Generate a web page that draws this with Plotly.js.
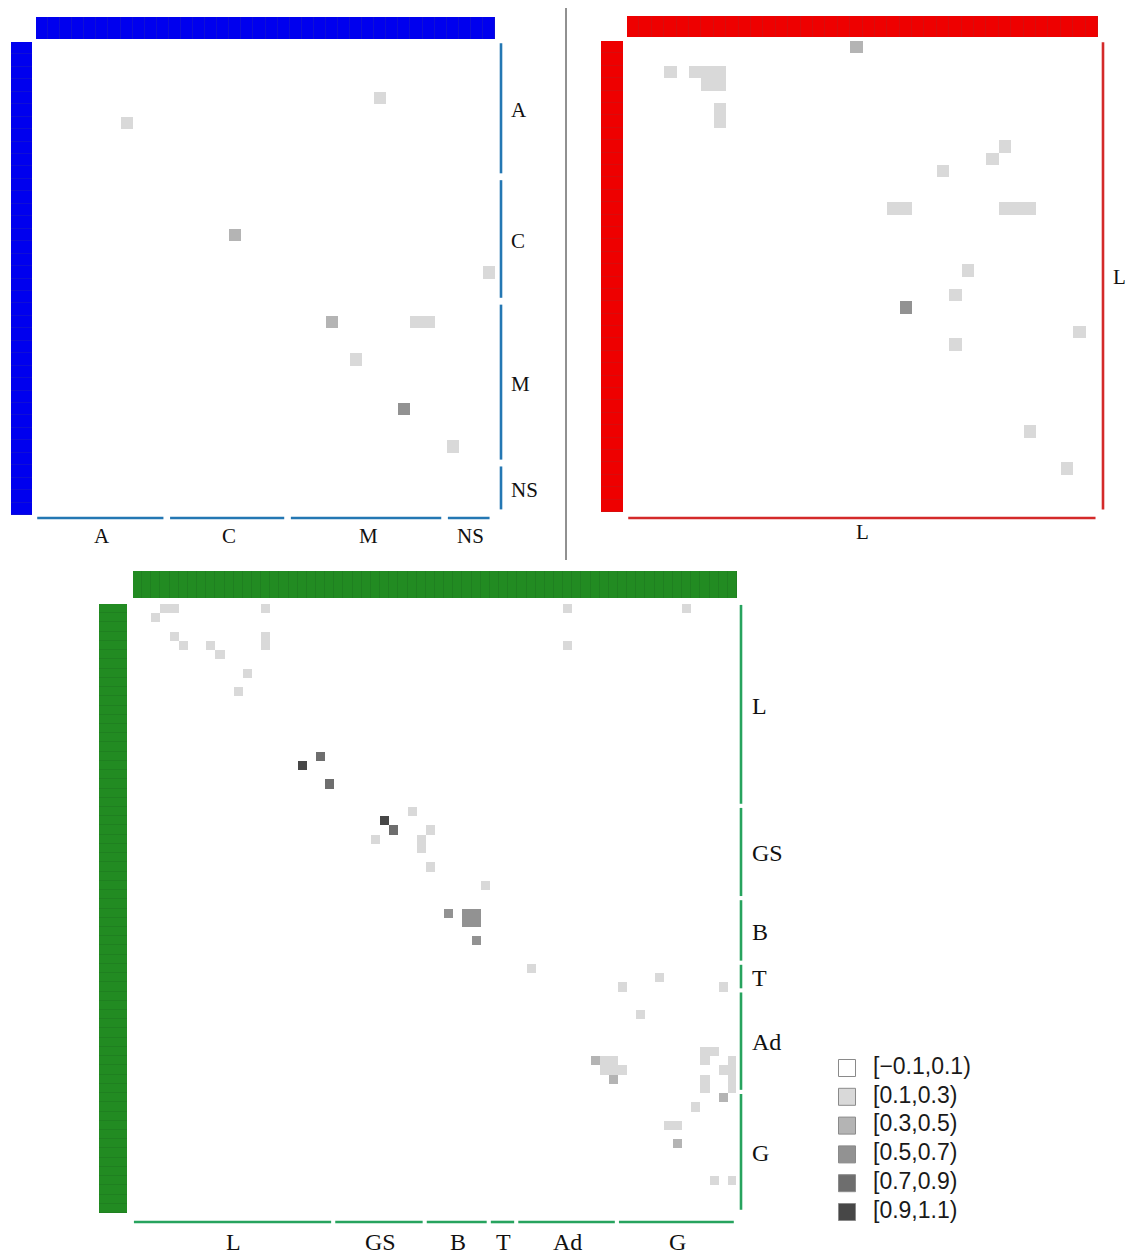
<!DOCTYPE html>
<html><head><meta charset="utf-8">
<script src="https://cdn.plot.ly/plotly-3.0.1.min.js"></script>
<style>html,body{margin:0;padding:0;background:#fff;}#chart{width:1125px;height:1255px;}</style>
</head><body><div id="chart"></div>
<script>
// ---------- DATA ----------
const legendLabels = ['[\u22120.1,0.1)','[0.1,0.3)','[0.3,0.5)','[0.5,0.7)','[0.7,0.9)','[0.9,1.1)'];
const binGrays = ['#ffffff','#d9d9d9','#b4b4b4','#929292','#6e6e6e','#474747'];

// Panel 1 (blue): groups A, C, M, NS
const p1Groups = ['A','C','M','NS'];
const p1Sizes = [11,10,13,4];
const p1Rows = [4, 6, 15, 18, 22, 22, 22, 25, 29, 32];
const p1Cols = [28, 7, 16, 37, 24, 31, 32, 26, 30, 34];
const p1Vals = [0.2, 0.2, 0.4, 0.2, 0.4, 0.2, 0.2, 0.2, 0.6, 0.2];

// Panel 2 (red): group L
const p2Groups = ['L'];
const p2Sizes = [38];
const p2Rows = [0, 2, 2, 2, 2, 3, 3, 5, 6, 8, 9, 10, 13, 13, 13, 13, 13, 18, 20, 21, 23, 24, 31, 34];
const p2Cols = [18, 3, 5, 6, 7, 6, 7, 7, 7, 30, 29, 25, 21, 22, 30, 31, 32, 27, 26, 22, 36, 26, 32, 35];
const p2Vals = [0.4, 0.2, 0.2, 0.2, 0.2, 0.2, 0.2, 0.2, 0.2, 0.2, 0.2, 0.2, 0.2, 0.2, 0.2, 0.2, 0.2, 0.2, 0.2, 0.6, 0.2, 0.2, 0.2, 0.2];

// Panel 3 (green): groups L, GS, B, T, Ad, G
const p3Groups = ['L','GS','B','T','Ad','G'];
const p3Sizes = [22,10,7,3,11,13];
const p3Rows = [0,0,1,0,3,4,4,5,3,4,7,9,0,4,0,
                17,16,19,
                22,23,24,25,24,25,26,28,30,
                33,33,33,34,34,36,
                39,41,40,41,44,
                49,49,49,50,50,50,51,
                48,48,49,49,50,51,52,50,51,52,53,54,56,56,58,62,62];
const p3Cols = [3,4,2,14,4,5,8,9,14,14,12,11,47,47,60,
                18,20,21,
                30,27,28,26,32,31,31,32,38,
                34,36,37,36,37,37,
                43,53,57,64,55,
                50,51,52,51,52,53,52,
                62,63,62,65,65,65,65,64,62,62,64,61,58,59,59,63,65];
const p3Vals = [0.2,0.2,0.2,0.2,0.2,0.2,0.2,0.2,0.2,0.2,0.2,0.2,0.2,0.2,0.2,
                1.0,0.8,0.8,
                0.2,1.0,0.8,0.2,0.2,0.2,0.2,0.2,0.2,
                0.6,0.6,0.6,0.6,0.6,0.6,
                0.2,0.2,0.2,0.2,0.2,
                0.4,0.2,0.2,0.2,0.2,0.2,0.4,
                0.2,0.2,0.2,0.2,0.2,0.2,0.2,0.2,0.2,0.2,0.4,0.2,0.2,0.2,0.4,0.2,0.2];

// ---------- LAYOUT HELPERS ----------
const W = 1125, H = 1255;
const xd = (a,b) => [a/W, b/W];
const yd = (a,b) => [1 - b/H, 1 - a/H];
const serif = 'Liberation Serif, DejaVu Serif, serif';

const cs = [];
binGrays.forEach((g,i) => { cs.push([i/6, g]); cs.push([(i+1)/6, g]); });

function buildZ(n, rows, cols, vals) {
  const z = Array.from({length:n}, () => Array(n).fill(0));
  rows.forEach((r,i) => { z[r][cols[i]] = vals[i]; });
  return z;
}
function groupIndex(sizes) {
  const out = [];
  sizes.forEach((s,g) => { for (let k=0;k<s;k++) out.push(g); });
  return out;
}
function segs(sizes, padS, padE) {
  const a = [], b = []; let s = 0;
  sizes.forEach(n => { a.push(s - 0.5 + padS, s + n - 0.5 - padE, null); b.push(0,0,null); s += n; });
  return {pos:a, zero:b};
}
function centers(sizes) {
  const c = []; let s = 0;
  sizes.forEach(n => { c.push(s + n/2 - 0.5); s += n; });
  return c;
}

const traces = [];
const layout = {
  width: W, height: H, margin:{l:0,r:0,t:0,b:0},
  paper_bgcolor:'#ffffff', plot_bgcolor:'#ffffff',
  showlegend:false, shapes:[], annotations:[]
};
function hideAx(domain, range) {
  return {domain, range, visible:false, fixedrange:true, showgrid:false, zeroline:false};
}

function panel(cfg) {
  const n = cfg.sizes.reduce((a,b)=>a+b,0);
  const idx = Array.from({length:n}, (_,i)=>i);
  const gi = groupIndex(cfg.sizes);
  const [X, Y, Yb, Yt, Xr, Xl] = cfg.ax;
  const xn = i => i===1 ? 'x' : 'x'+i;
  const yn = i => i===1 ? 'y' : 'y'+i;
  const xk = i => i===1 ? 'xaxis' : 'xaxis'+i;
  const yk = i => i===1 ? 'yaxis' : 'yaxis'+i;
  const p = cfg.px;
  layout[xk(X)] = hideAx(xd(p.hx0, p.hx1), [-0.5, n-0.5]);
  layout[yk(Y)] = hideAx(yd(p.hy0, p.hy1), [n-0.5, -0.5]);
  layout[yk(Yb)] = hideAx(yd(p.by-5, p.by+5), [-1, 1]);
  layout[yk(Yt)] = hideAx(yd(p.ty0, p.ty1), [-0.5, 0.5]);
  layout[xk(Xr)] = hideAx(xd(p.rx-5, p.rx+5), [-1, 1]);
  layout[xk(Xl)] = hideAx(xd(p.lx0, p.lx1), [-0.5, 0.5]);
  layout[yk(Yb)].anchor = xn(X); layout[yk(Yt)].anchor = xn(X);
  layout[xk(Xr)].anchor = yn(Y); layout[xk(Xl)].anchor = yn(Y);

  traces.push({type:'heatmap', z: buildZ(n, cfg.rows, cfg.cols, cfg.vals), x: idx, y: idx,
    xaxis:xn(X), yaxis:yn(Y), colorscale:cs, zmin:-0.1, zmax:1.1, showscale:false, hoverinfo:'skip'});
  traces.push({type:'heatmap', z:[gi], x: idx, y:[0], xaxis:xn(X), yaxis:yn(Yt),
    colorscale:[[0,cfg.bar],[1,cfg.bar]], showscale:false, xgap:1, hoverinfo:'skip'});
  traces.push({type:'heatmap', z: gi.map(g=>[g]), x:[0], y: idx, xaxis:xn(Xl), yaxis:yn(Y),
    colorscale:[[0,cfg.bar],[1,cfg.bar]], showscale:false, ygap:1, hoverinfo:'skip'});
  layout.shapes.push({type:'rect', xref:xn(X)+' domain', yref:yn(Yt)+' domain', x0:0,x1:1,y0:0,y1:1,
    fillcolor:cfg.stripe, line:{width:0}, layer:'below'});
  layout.shapes.push({type:'rect', xref:xn(Xl)+' domain', yref:yn(Y)+' domain', x0:0,x1:1,y0:0,y1:1,
    fillcolor:cfg.stripe, line:{width:0}, layer:'below'});
  const sg = segs(cfg.sizes, cfg.padS, cfg.padE);
  traces.push({type:'scatter', mode:'lines', x: sg.pos, y: sg.zero, xaxis:xn(X), yaxis:yn(Yb),
    line:{color:cfg.line, width:2.6}, hoverinfo:'skip', connectgaps:false});
  traces.push({type:'scatter', mode:'lines', x: sg.zero, y: sg.pos, xaxis:xn(Xr), yaxis:yn(Y),
    line:{color:cfg.line, width:2.6}, hoverinfo:'skip', connectgaps:false});
  const c = centers(cfg.sizes);
  cfg.groups.forEach((g,i) => {
    layout.annotations.push({text:g, xref:xn(X), x:c[i], yref:'paper', y:1 - p.blY/H,
      xanchor:'center', yanchor:'middle', showarrow:false, font:{family:serif, size:cfg.fs, color:'#111'}});
    layout.annotations.push({text:g, xref:'paper', x:p.rlX/W, yref:yn(Y), y:c[i],
      xanchor:'left', yanchor:'middle', showarrow:false, font:{family:serif, size:cfg.fs, color:'#111'}});
  });
}

panel({groups:p1Groups, sizes:p1Sizes, rows:p1Rows, cols:p1Cols, vals:p1Vals,
  ax:[1,1,2,3,2,3], bar:'#0000ee', stripe:'#0f0fd6', line:'#2477b3', fs:21, padS:0.1, padE:0.45,
  px:{hx0:36, hx1:495, hy0:42, hy1:515, by:518, ty0:17, ty1:39, rx:501, lx0:11, lx1:32, blY:536, rlX:509}});
panel({groups:p2Groups, sizes:p2Sizes, rows:p2Rows, cols:p2Cols, vals:p2Vals,
  ax:[4,4,5,6,5,6], bar:'#ee0000', stripe:'#d80c0c', line:'#d42a2a', fs:21, padS:0.1, padE:0.2,
  px:{hx0:627, hx1:1098, hy0:41, hy1:512, by:518, ty0:16, ty1:37, rx:1103, lx0:601, lx1:623, blY:532, rlX:1111}});
panel({groups:p3Groups, sizes:p3Sizes, rows:p3Rows, cols:p3Cols, vals:p3Vals,
  ax:[7,7,8,9,8,9], bar:'#228b22', stripe:'#1f8020', line:'#27a35e', fs:24, padS:0.1, padE:0.35,
  px:{hx0:133, hx1:737, hy0:604, hy1:1213, by:1222, ty0:571, ty1:598, rx:741, lx0:99, lx1:127, blY:1242, rlX:750}});

// legend panel
layout.xaxis10 = hideAx(xd(830, 1010), [0, 180]);
layout.yaxis10 = hideAx(yd(1053.6, 1226.4), [5.5, -0.5]);
layout.yaxis10.anchor = 'x10'; layout.xaxis10.anchor = 'y10';
const li = legendLabels.map((_,i)=>i);
traces.push({type:'scatter', mode:'markers', x: li.map(()=>17), y: li, xaxis:'x10', yaxis:'y10',
  marker:{symbol:'square', size:17, color:binGrays, line:{color:'#8a8a8a', width:1}}, hoverinfo:'skip', cliponaxis:false});
traces.push({type:'scatter', mode:'text', x: li.map(()=>43), y: li, text: legendLabels, xaxis:'x10', yaxis:'y10',
  textposition:'middle right', textfont:{family:'Liberation Sans, Arial, sans-serif', size:23, color:'#1a1a1a'},
  hoverinfo:'skip', cliponaxis:false});

// divider between the two upper panels
layout.shapes.push({type:'line', xref:'paper', yref:'paper', x0:566/W, x1:566/W, y0:1-560/H, y1:1-8/H,
  line:{color:'#222', width:1}});

Plotly.newPlot('chart', traces, layout, {staticPlot:true, displayModeBar:false});
</script></body></html>
